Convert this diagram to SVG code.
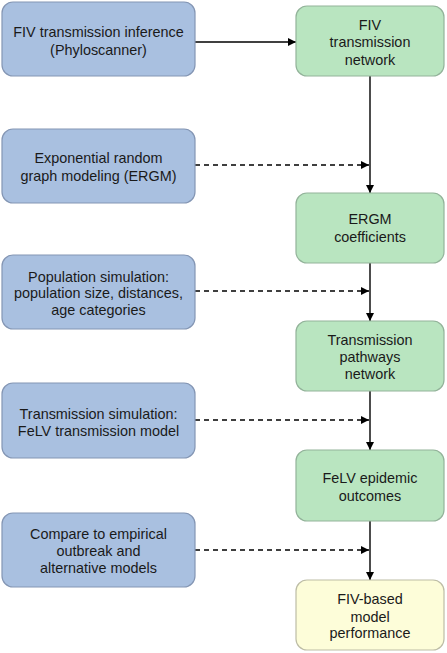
<svg xmlns="http://www.w3.org/2000/svg" width="447" height="653" viewBox="0 0 447 653">
<style>
.b{fill:#a9c0e0;stroke:#8496b4;stroke-width:1.2}
.g{fill:#b9e5c0;stroke:#93b39a;stroke-width:1.2}
.y{fill:#fdfdd9;stroke:#bdbda6;stroke-width:1.2}
text{font-family:"Liberation Sans",Arial,sans-serif;font-size:14.4px;fill:#1a1a1a;text-anchor:middle}
.s{stroke:#000;stroke-width:1.4;fill:none}
.d{stroke:#000;stroke-width:1.4;fill:none;stroke-dasharray:5 4}
</style>
<defs>
<marker id="a" viewBox="0 0 10 10" refX="10" refY="5" markerWidth="8" markerHeight="8" markerUnits="userSpaceOnUse" orient="auto">
<path d="M0,0 L10,5 L0,10 z" fill="#000"/>
</marker>
</defs>
<g id="connectors">
<line class="s" x1="195" y1="42" x2="296" y2="42" marker-end="url(#a)"/>
<line class="s" x1="370" y1="76" x2="370" y2="193" marker-end="url(#a)"/>
<line class="s" x1="370" y1="263" x2="370" y2="321" marker-end="url(#a)"/>
<line class="s" x1="370" y1="391" x2="370" y2="450" marker-end="url(#a)"/>
<line class="s" x1="370" y1="521" x2="370" y2="580" marker-end="url(#a)"/>
<line class="d" x1="195" y1="165" x2="369" y2="165" marker-end="url(#a)"/>
<line class="d" x1="195" y1="291" x2="369" y2="291" marker-end="url(#a)"/>
<line class="d" x1="195" y1="420" x2="369" y2="420" marker-end="url(#a)"/>
<line class="d" x1="195" y1="550" x2="369" y2="550" marker-end="url(#a)"/>
</g>
<g id="n1"><rect class="b" x="2" y="2" width="193" height="74" rx="11"/>
<text x="98.5" y="36.5">FIV transmission inference</text><text x="98.5" y="54.5">(Phyloscanner)</text></g>
<g id="n2"><rect class="g" x="296" y="6" width="148" height="70" rx="11"/>
<text x="370" y="29.5">FIV</text><text x="370" y="47">transmission</text><text x="370" y="64.5">network</text></g>
<g id="n3"><rect class="b" x="2" y="129" width="193" height="74" rx="11"/>
<text x="98.5" y="162.5">Exponential random</text><text x="98.5" y="181">graph modeling (ERGM)</text></g>
<g id="n4"><rect class="g" x="296" y="193" width="148" height="70" rx="11"/>
<text x="370" y="224">ERGM</text><text x="370" y="241.5">coefficients</text></g>
<g id="n5"><rect class="b" x="2" y="255" width="193" height="74" rx="11"/>
<text x="98.5" y="281.5">Population simulation:</text><text x="98.5" y="298">population size, distances,</text><text x="98.5" y="314.5">age categories</text></g>
<g id="n6"><rect class="g" x="296" y="321" width="148" height="70" rx="11"/>
<text x="370" y="344.5">Transmission</text><text x="370" y="361.5">pathways</text><text x="370" y="378.5">network</text></g>
<g id="n7"><rect class="b" x="2" y="383" width="193" height="75" rx="11"/>
<text x="98.5" y="418.5">Transmission simulation:</text><text x="98.5" y="435.5">FeLV transmission model</text></g>
<g id="n8"><rect class="g" x="296" y="450" width="148" height="71" rx="11"/>
<text x="370" y="482.5">FeLV epidemic</text><text x="370" y="500.5">outcomes</text></g>
<g id="n9"><rect class="b" x="2" y="513" width="193" height="74" rx="11"/>
<text x="98.5" y="538.5">Compare to empirical</text><text x="98.5" y="555.5">outbreak and</text><text x="98.5" y="572.5">alternative models</text></g>
<g id="n10"><rect class="y" x="296" y="580" width="148" height="70" rx="11"/>
<text x="370" y="603.5">FIV-based</text><text x="370" y="621.5">model</text><text x="370" y="637.5">performance</text></g>
</svg>
